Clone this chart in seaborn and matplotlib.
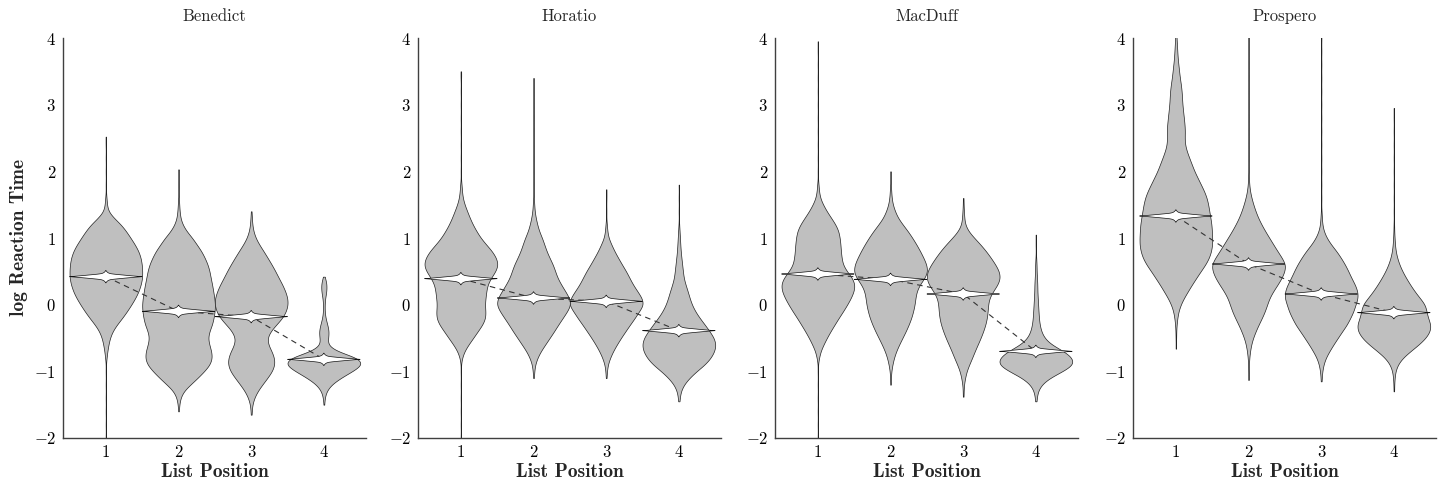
import numpy as np
import pandas as pd
import matplotlib
matplotlib.use("Agg")
import matplotlib.pyplot as plt
import seaborn as sns

positions = ["1", "2", "3", "4"]
characters = ["Benedict", "Horatio", "MacDuff", "Prospero"]

# violin outlines: (log RT level, relative width) per list position
benedict = [
    [(2.52, 1), (2.4, 1), (2.2, 1), (2.0, 1), (1.8, 1), (1.6, 2), (1.5, 3), (1.4, 6), (1.3, 22), (1.2, 42),
     (1.1, 56), (1.0, 68), (0.9, 80), (0.8, 90), (0.7, 96), (0.6, 99), (0.5, 100), (0.4, 100), (0.3, 96),
     (0.2, 90), (0.1, 81), (0.0, 70), (-0.1, 58), (-0.2, 45), (-0.3, 30), (-0.4, 18), (-0.5, 11), (-0.6, 7),
     (-0.7, 4), (-0.8, 2), (-1.0, 1), (-1.2, 1), (-1.4, 1), (-1.6, 1), (-1.8, 1), (-2.0, 1), (-2.2, 1)],
    [(2.03, 1), (1.8, 1), (1.6, 1), (1.5, 2), (1.4, 3), (1.3, 5), (1.2, 11), (1.1, 22), (1.0, 38), (0.9, 50),
     (0.8, 63), (0.7, 72), (0.6, 80), (0.5, 85), (0.4, 88), (0.3, 92), (0.2, 95), (0.1, 98), (0.0, 100),
     (-0.1, 99), (-0.2, 96), (-0.3, 92), (-0.4, 84), (-0.5, 80), (-0.6, 84), (-0.7, 90), (-0.8, 92),
     (-0.9, 86), (-1.0, 70), (-1.1, 52), (-1.2, 32), (-1.3, 13), (-1.4, 5), (-1.5, 2), (-1.6, 1)],
    [(1.4, 1), (1.3, 2), (1.2, 3), (1.1, 6), (1.0, 12), (0.9, 22), (0.8, 34), (0.7, 45), (0.6, 56), (0.5, 66),
     (0.4, 75), (0.3, 85), (0.2, 93), (0.1, 99), (0.0, 100), (-0.1, 95), (-0.2, 85), (-0.3, 68), (-0.4, 52),
     (-0.5, 43), (-0.6, 46), (-0.7, 56), (-0.8, 63), (-0.9, 64), (-1.0, 57), (-1.1, 44), (-1.2, 30),
     (-1.3, 17), (-1.4, 8), (-1.5, 3), (-1.6, 1), (-1.65, 1)],
    [(0.42, 1), (0.35, 3), (0.3, 6), (0.2, 7), (0.1, 3), (0.0, 2), (-0.1, 2), (-0.2, 4), (-0.3, 9), (-0.4, 13),
     (-0.5, 11), (-0.6, 8), (-0.7, 30), (-0.8, 92), (-0.9, 100), (-1.0, 72), (-1.1, 42), (-1.2, 18),
     (-1.3, 6), (-1.4, 2), (-1.5, 1)],
]
horatio = [
    [(3.5, 1), (3.4, 1), (3.2, 1), (3.0, 1), (2.8, 1), (2.6, 1), (2.4, 1), (2.2, 1), (2.0, 1), (1.8, 2),
     (1.7, 3), (1.6, 5), (1.5, 10), (1.4, 17), (1.3, 24), (1.2, 32), (1.1, 42), (1.0, 53), (0.9, 68),
     (0.8, 84), (0.7, 95), (0.6, 100), (0.5, 93), (0.4, 80), (0.3, 71), (0.2, 68), (0.1, 66), (0.0, 64),
     (-0.1, 66), (-0.2, 66), (-0.3, 58), (-0.4, 45), (-0.5, 33), (-0.6, 20), (-0.7, 9), (-0.8, 3),
     (-1.0, 1), (-1.2, 1), (-1.4, 1), (-1.6, 1), (-1.8, 1), (-2.0, 1), (-2.2, 1)],
    [(3.4, 1), (3.2, 1), (3.0, 1), (2.8, 1), (2.6, 1), (2.4, 1), (2.2, 1), (2.0, 1), (1.8, 1), (1.6, 1),
     (1.5, 2), (1.4, 3), (1.3, 6), (1.2, 10), (1.1, 15), (1.0, 23), (0.9, 29), (0.8, 35), (0.7, 43),
     (0.6, 52), (0.5, 58), (0.4, 64), (0.3, 74), (0.2, 85), (0.1, 96), (0.0, 100), (-0.1, 90), (-0.2, 78),
     (-0.3, 66), (-0.4, 55), (-0.5, 43), (-0.6, 31), (-0.7, 19), (-0.8, 10), (-0.9, 4), (-1.0, 2), (-1.1, 1)],
    [(1.73, 1), (1.6, 1), (1.4, 1), (1.2, 2), (1.1, 3), (1.0, 6), (0.9, 14), (0.8, 22), (0.7, 32), (0.6, 42),
     (0.5, 53), (0.4, 62), (0.3, 71), (0.2, 83), (0.1, 95), (0.0, 100), (-0.1, 87), (-0.2, 76), (-0.3, 63),
     (-0.4, 51), (-0.5, 39), (-0.6, 28), (-0.7, 18), (-0.8, 10), (-0.9, 4), (-1.0, 2), (-1.1, 1)],
    [(1.8, 1), (1.6, 1), (1.4, 1), (1.2, 1), (1.1, 2), (1.0, 3), (0.9, 4), (0.8, 5), (0.7, 7), (0.6, 9),
     (0.5, 11), (0.4, 13), (0.3, 18), (0.2, 24), (0.1, 29), (0.0, 35), (-0.1, 44), (-0.2, 56), (-0.3, 70),
     (-0.4, 83), (-0.5, 95), (-0.6, 100), (-0.7, 96), (-0.8, 86), (-0.9, 70), (-1.0, 47), (-1.1, 28),
     (-1.2, 13), (-1.3, 5), (-1.4, 2), (-1.45, 1)],
]
macduff = [
    [(3.95, 1), (3.8, 1), (3.6, 1), (3.4, 1), (3.2, 1), (3.0, 1), (2.8, 1), (2.6, 1), (2.4, 1), (2.2, 1),
     (2.0, 1), (1.8, 2), (1.7, 3), (1.6, 6), (1.5, 14), (1.4, 24), (1.3, 36), (1.2, 48), (1.1, 56),
     (1.0, 59), (0.9, 61), (0.8, 62), (0.7, 64), (0.6, 67), (0.5, 78), (0.4, 93), (0.3, 100), (0.2, 97),
     (0.1, 89), (0.0, 79), (-0.1, 68), (-0.2, 56), (-0.3, 45), (-0.4, 34), (-0.5, 24), (-0.6, 15),
     (-0.7, 7), (-0.8, 3), (-1.0, 1), (-1.2, 1), (-1.4, 1), (-1.6, 1), (-1.8, 1), (-2.0, 1), (-2.2, 1)],
    [(2.0, 1), (1.8, 1), (1.7, 2), (1.6, 3), (1.5, 6), (1.4, 12), (1.3, 20), (1.2, 33), (1.1, 47), (1.0, 59),
     (0.9, 70), (0.8, 80), (0.7, 89), (0.6, 97), (0.5, 100), (0.4, 92), (0.3, 78), (0.2, 70), (0.1, 67),
     (0.0, 65), (-0.1, 61), (-0.2, 56), (-0.3, 49), (-0.4, 41), (-0.5, 32), (-0.6, 23), (-0.7, 15),
     (-0.8, 9), (-0.9, 5), (-1.0, 2), (-1.1, 1), (-1.2, 1)],
    [(1.6, 1), (1.5, 1), (1.4, 2), (1.3, 3), (1.2, 5), (1.1, 14), (1.0, 30), (0.9, 47), (0.8, 62), (0.7, 75),
     (0.6, 87), (0.5, 97), (0.4, 100), (0.3, 93), (0.2, 80), (0.1, 70), (0.0, 67), (-0.1, 66), (-0.2, 64),
     (-0.3, 60), (-0.4, 54), (-0.5, 47), (-0.6, 39), (-0.7, 31), (-0.8, 24), (-0.9, 16), (-1.0, 9),
     (-1.1, 5), (-1.2, 2), (-1.3, 1), (-1.38, 1)],
    [(1.05, 1), (0.9, 1), (0.7, 1), (0.6, 2), (0.5, 2), (0.4, 3), (0.3, 4), (0.2, 4), (0.1, 5), (0.0, 6),
     (-0.1, 7), (-0.2, 8), (-0.3, 10), (-0.4, 14), (-0.5, 22), (-0.6, 40), (-0.7, 75), (-0.8, 97),
     (-0.9, 100), (-1.0, 70), (-1.1, 35), (-1.2, 14), (-1.3, 5), (-1.4, 2), (-1.45, 1)],
]
prospero = [
    [(4.2, 1), (4.1, 1), (4.0, 2), (3.9, 3), (3.8, 4), (3.7, 5), (3.6, 7), (3.5, 9), (3.4, 11), (3.3, 14),
     (3.2, 16), (3.1, 17), (3.0, 18), (2.9, 20), (2.8, 22), (2.7, 24), (2.6, 25), (2.5, 24), (2.4, 25),
     (2.3, 30), (2.2, 37), (2.1, 44), (2.0, 51), (1.9, 60), (1.8, 69), (1.7, 78), (1.6, 85), (1.5, 89),
     (1.4, 92), (1.3, 95), (1.2, 98), (1.1, 99), (1.0, 100), (0.9, 100), (0.8, 97), (0.7, 91), (0.6, 81),
     (0.5, 68), (0.4, 56), (0.3, 44), (0.2, 33), (0.1, 22), (0.0, 13), (-0.1, 7), (-0.2, 4), (-0.3, 2),
     (-0.4, 1), (-0.5, 1), (-0.66, 1)],
    [(4.2, 1), (4.0, 1), (3.8, 1), (3.6, 1), (3.4, 1), (3.2, 1), (3.0, 1), (2.8, 1), (2.6, 1), (2.4, 1),
     (2.2, 1), (2.0, 1), (1.9, 1), (1.8, 2), (1.7, 4), (1.6, 8), (1.5, 13), (1.4, 19), (1.3, 26), (1.2, 35),
     (1.1, 45), (1.0, 56), (0.9, 67), (0.8, 78), (0.7, 90), (0.6, 100), (0.5, 97), (0.4, 89), (0.3, 78),
     (0.2, 66), (0.1, 56), (0.0, 50), (-0.1, 44), (-0.2, 36), (-0.3, 27), (-0.4, 19), (-0.5, 12),
     (-0.6, 7), (-0.7, 4), (-0.8, 2), (-0.9, 1), (-1.0, 1), (-1.13, 1)],
    [(4.2, 1), (4.0, 1), (3.8, 1), (3.6, 1), (3.4, 1), (3.2, 1), (3.0, 1), (2.8, 1), (2.6, 1), (2.4, 1),
     (2.2, 1), (2.0, 1), (1.8, 1), (1.6, 1), (1.4, 1), (1.3, 2), (1.2, 3), (1.1, 7), (1.0, 15), (0.9, 27),
     (0.8, 42), (0.7, 54), (0.6, 65), (0.5, 74), (0.4, 82), (0.3, 92), (0.2, 99), (0.1, 100), (0.0, 93),
     (-0.1, 88), (-0.2, 79), (-0.3, 70), (-0.4, 57), (-0.5, 45), (-0.6, 33), (-0.7, 22), (-0.8, 12),
     (-0.9, 6), (-1.0, 3), (-1.1, 1), (-1.15, 1)],
    [(2.95, 1), (2.8, 1), (2.6, 1), (2.4, 1), (2.2, 1), (2.0, 1), (1.8, 1), (1.6, 1), (1.4, 1), (1.2, 1),
     (1.1, 1), (1.0, 2), (0.9, 3), (0.8, 5), (0.7, 9), (0.6, 15), (0.5, 23), (0.4, 33), (0.3, 44), (0.2, 56),
     (0.1, 70), (0.0, 85), (-0.1, 88), (-0.2, 92), (-0.3, 100), (-0.4, 98), (-0.5, 86), (-0.6, 67),
     (-0.7, 44), (-0.8, 23), (-0.9, 10), (-1.0, 4), (-1.1, 2), (-1.2, 1), (-1.3, 1)],
]

# medians (white markers)
benedict_median = [0.42, -0.10, -0.18, -0.82]
horatio_median = [0.39, 0.10, 0.05, -0.39]
macduff_median = [0.46, 0.38, 0.16, -0.70]
prospero_median = [1.33, 0.61, 0.16, -0.12]

panels = [
    (benedict, benedict_median),
    (horatio, horatio_median),
    (macduff, macduff_median),
    (prospero, prospero_median),
]


def to_frame(violins):
    rows = []
    for pos, pairs in zip(positions, violins):
        for level, count in pairs:
            rows += [(pos, level)] * count
    return pd.DataFrame(rows, columns=["List Position", "log Reaction Time"])


def draw_median(ax, x, y, half_w=0.5):
    u = np.linspace(-1, 1, 401)
    top = 0.05 * (1 - np.abs(u)) ** 1.1 + 0.045 * (1 - np.abs(u)) ** 20
    xs = np.concatenate([x + half_w * u, x + half_w * u[::-1]])
    ys = np.concatenate([y + top, y - top[::-1]])
    ax.fill(xs, ys, facecolor="white", edgecolor="#111111", linewidth=0.5, zorder=4)


sns.set_style("white")
plt.rcParams["font.family"] = "serif"
plt.rcParams["font.serif"] = ["cmr10"]
plt.rcParams["mathtext.fontset"] = "cm"
plt.rcParams["axes.formatter.use_mathtext"] = True

fig = plt.figure(figsize=(14.45, 4.82), dpi=100)
lefts = [63, 418, 775, 1133]

for i, (name, (violins, medians)) in enumerate(zip(characters, panels)):
    ax = fig.add_axes([lefts[i] / 1445, 44 / 482, 303 / 1445, 400 / 482])
    df = to_frame(violins)
    sns.violinplot(
        data=df, x="List Position", y="log Reaction Time", order=positions, ax=ax,
        inner=None, cut=0, density_norm="width", width=1.0, gridsize=400,
        bw_method=lambda k: 0.07 / k.dataset.std(),
        color="#bfbfbf", saturation=1, linecolor="#222222", linewidth=0.5,
    )
    ax.plot(range(4), medians, color="#333333", linewidth=0.8,
            linestyle=(0, (5, 4)), zorder=3)
    for x, m in enumerate(medians):
        draw_median(ax, x, m)

    ax.set_xlim(-0.59, 3.58)
    ax.set_ylim(-2, 4)
    ax.set_yticks(range(-2, 5))
    ax.set_title(name, fontsize=12, pad=12)
    ax.set_xlabel("List Position", fontsize=14, fontfamily="cmb10", labelpad=2)
    if i == 0:
        ax.set_ylabel("log Reaction Time", fontsize=14, fontfamily="cmb10", labelpad=4)
    else:
        ax.set_ylabel("")
    for side in ["top", "right"]:
        ax.spines[side].set_visible(False)
    for side in ["left", "bottom"]:
        ax.spines[side].set_color("#404040")
        ax.spines[side].set_linewidth(1.0)
    ax.tick_params(direction="in", length=4, width=0.8, color="#b0b0b0",
                   labelsize=12, labelcolor="black", pad=5)

fig.savefig("out.png", dpi=100)
